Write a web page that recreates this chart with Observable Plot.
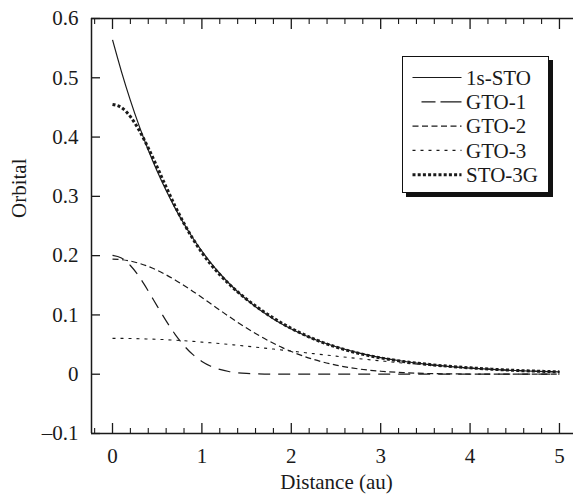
<!DOCTYPE html>
<html><head><meta charset="utf-8">
<script src="https://cdn.jsdelivr.net/npm/d3@7"></script>
<script src="https://cdn.jsdelivr.net/npm/@observablehq/plot@0.6"></script>
<style>
body{margin:0;background:#fff;}
#wrap{position:relative;width:573px;height:495px;overflow:hidden;}
#legend{position:absolute;left:402px;top:56px;width:147px;height:137px;border:1.5px solid #111;box-shadow:4px 4px 0 #111;background:#fff;box-sizing:border-box;}
#legend svg{display:block;}
</style></head><body><div id="wrap"></div>
<script>
// ---- data ----
const distance = [0,0.1,0.2,0.3,0.4,0.5,0.6,0.7,0.8,0.9,1.0,1.1,1.2,1.3,1.4,1.5,1.6,1.7,1.8,1.9,2.0,2.25,2.5,2.75,3.0,3.25,3.5,3.75,4.0,4.25,4.5,4.75,5.0];
const sto1s = [0.564,0.5105,0.4619,0.4180,0.3782,0.3422,0.3097,0.2802,0.2535,0.2294,0.2076,0.1878,0.1699,0.1538,0.1391,0.1259,0.1139,0.1031,0.0933,0.0844,0.0764,0.0595,0.0463,0.0361,0.0281,0.0219,0.0170,0.0133,0.0103,0.0080,0.0063,0.0049,0.0038];
const gto1 = [0.2005,0.1961,0.1834,0.1641,0.1404,0.1149,0.0899,0.0673,0.0482,0.0330,0.0216,0.0135,0.0081,0.0046,0.0025,0.0013,0.0007,0.0003,0.0002,0.0001,0,0,0,0,0,0,0,0,0,0,0,0,0];
const gto2 = [0.1940,0.1932,0.1909,0.1870,0.1818,0.1753,0.1676,0.1590,0.1496,0.1397,0.1293,0.1187,0.1082,0.0977,0.0876,0.0779,0.0687,0.0601,0.0521,0.0448,0.0383,0.0249,0.0154,0.0090,0.0050,0.0027,0.0013,0.0006,0.0003,0.0001,0,0,0];
const gto3 = [0.0605,0.0604,0.0602,0.0599,0.0594,0.0589,0.0582,0.0573,0.0564,0.0554,0.0542,0.0530,0.0517,0.0503,0.0488,0.0473,0.0457,0.0440,0.0424,0.0407,0.0390,0.0347,0.0305,0.0264,0.0225,0.0188,0.0158,0.0129,0.0104,0.0083,0.0065,0.0051,0.0039];
const sto3g = [0.4550,0.4497,0.4345,0.4110,0.3816,0.3491,0.3157,0.2836,0.2542,0.2281,0.2051,0.1852,0.1680,0.1526,0.1389,0.1265,0.1151,0.1044,0.0947,0.0856,0.0773,0.0596,0.0459,0.0354,0.0275,0.0215,0.0171,0.0135,0.0107,0.0084,0.0065,0.0051,0.0039];

const seriesNames = ["1s-STO","GTO-1","GTO-2","GTO-3","STO-3G"];
const seriesValues = [sto1s, gto1, gto2, gto3, sto3g];

const xMajorTicks = [0,1,2,3,4,5];
const xMinorTicks = [-0.2,0.2,0.4,0.6,0.8,1.2,1.4,1.6,1.8,2.2,2.4,2.6,2.8,3.2,3.4,3.6,3.8,4.2,4.4,4.6,4.8];
const yTicks = [0.6,0.5,0.4,0.3,0.2,0.1,0,-0.1];
const yTickLabels = ["0.6","0.5","0.4","0.3","0.2","0.1","0","\u20130.1"];
const xLabel = "Distance (au)";
const yLabel = "Orbital";

// ---- styles ----
const styles = {
  "1s-STO": {width:1.2, dash:null},
  "GTO-1": {width:1.2, dash:"12,8"},
  "GTO-2": {width:1.2, dash:"6,3.5"},
  "GTO-3": {width:1.1, dash:"3,5"},
  "STO-3G": {width:3, dash:"3,2.2"}
};
const ink = "#1a1a1a";
const xDomain = [-0.235, 5.157];
const yDomain = [-0.1, 0.6];

const rows = [];
seriesNames.forEach((name, s) => {
  distance.forEach((d, i) => rows.push({series: name, distance: d, value: seriesValues[s][i]}));
});

const lineMarks = seriesNames.map(name => Plot.line(rows.filter(r => r.series === name), {
  x: "distance", y: "value", curve: "monotone-x",
  stroke: ink, strokeWidth: styles[name].width,
  strokeDasharray: styles[name].dash, strokeLinecap: "butt"
}));

const chart = Plot.plot({
  width: 573, height: 495,
  marginLeft: 91, marginRight: 0, marginTop: 18, marginBottom: 62,
  style: {fontFamily: "'Liberation Serif', 'Times New Roman', serif", fontSize: "21px", color: ink, background: "#fff", overflow: "visible"},
  x: {domain: xDomain, axis: null},
  y: {domain: yDomain, axis: null},
  marks: [
    Plot.ruleY([yDomain[1]], {stroke: ink, strokeWidth: 1.5}),
    Plot.ruleY([yDomain[0]], {stroke: ink, strokeWidth: 1.5}),
    Plot.ruleX([xDomain[0]], {stroke: ink, strokeWidth: 1.5}),
    // bottom axis
    Plot.axisX(xMajorTicks, {anchor: "bottom", tickSize: 0, tickPadding: 15, label: null, tickFormat: d => String(d), fontSize: 21}),
    Plot.axisX(xMajorTicks, {anchor: "bottom", tickSize: -10, fill: "none", label: null, strokeWidth: 1.3}),
    Plot.axisX(xMinorTicks, {anchor: "bottom", tickSize: -5, fill: "none", label: null, strokeWidth: 1.1}),
    // top ticks
    Plot.axisX(xMajorTicks, {anchor: "top", tickSize: -10, fill: "none", label: null, strokeWidth: 1.3}),
    Plot.axisX(xMinorTicks, {anchor: "top", tickSize: -5, fill: "none", label: null, strokeWidth: 1.1}),
    // left axis
    Plot.axisY(yTicks, {anchor: "left", tickSize: 0, tickPadding: 13, label: null, tickFormat: (d, i) => yTickLabels[yTicks.indexOf(d)], fontSize: 21}),
    Plot.axisY(yTicks, {anchor: "left", tickSize: -9, fill: "none", label: null, strokeWidth: 1.3}),
    Plot.text([xLabel], {frameAnchor: "bottom", dx: 4, dy: 55, fontSize: 21}),
    Plot.text([yLabel], {frameAnchor: "left", rotate: -90, dx: -72, dy: -8, fontSize: 21}),
    ...lineMarks
  ]
});
const wrap = document.getElementById("wrap");
wrap.appendChild(chart);

// ---- legend (overlay) ----
const leg = document.createElement("div");
leg.id = "legend";
wrap.appendChild(leg);
const lsvg = d3.select(leg).append("svg").attr("width", 144).attr("height", 134)
  .style("font-family", "'Liberation Serif', 'Times New Roman', serif").style("font-size", "21px");
seriesNames.forEach((name, i) => {
  const y = 20.5 + i * 24.3;
  lsvg.append("line").attr("x1", 9.5).attr("x2", 58.5).attr("y1", y).attr("y2", y)
    .attr("stroke", ink).attr("stroke-width", styles[name].width)
    .attr("stroke-dasharray", name === "GTO-1" ? "0,9,14,5,14" : styles[name].dash);
  lsvg.append("text").attr("x", 63).attr("y", y).attr("dy", "0.35em").attr("fill", ink).text(name);
});
</script>
</body></html>
